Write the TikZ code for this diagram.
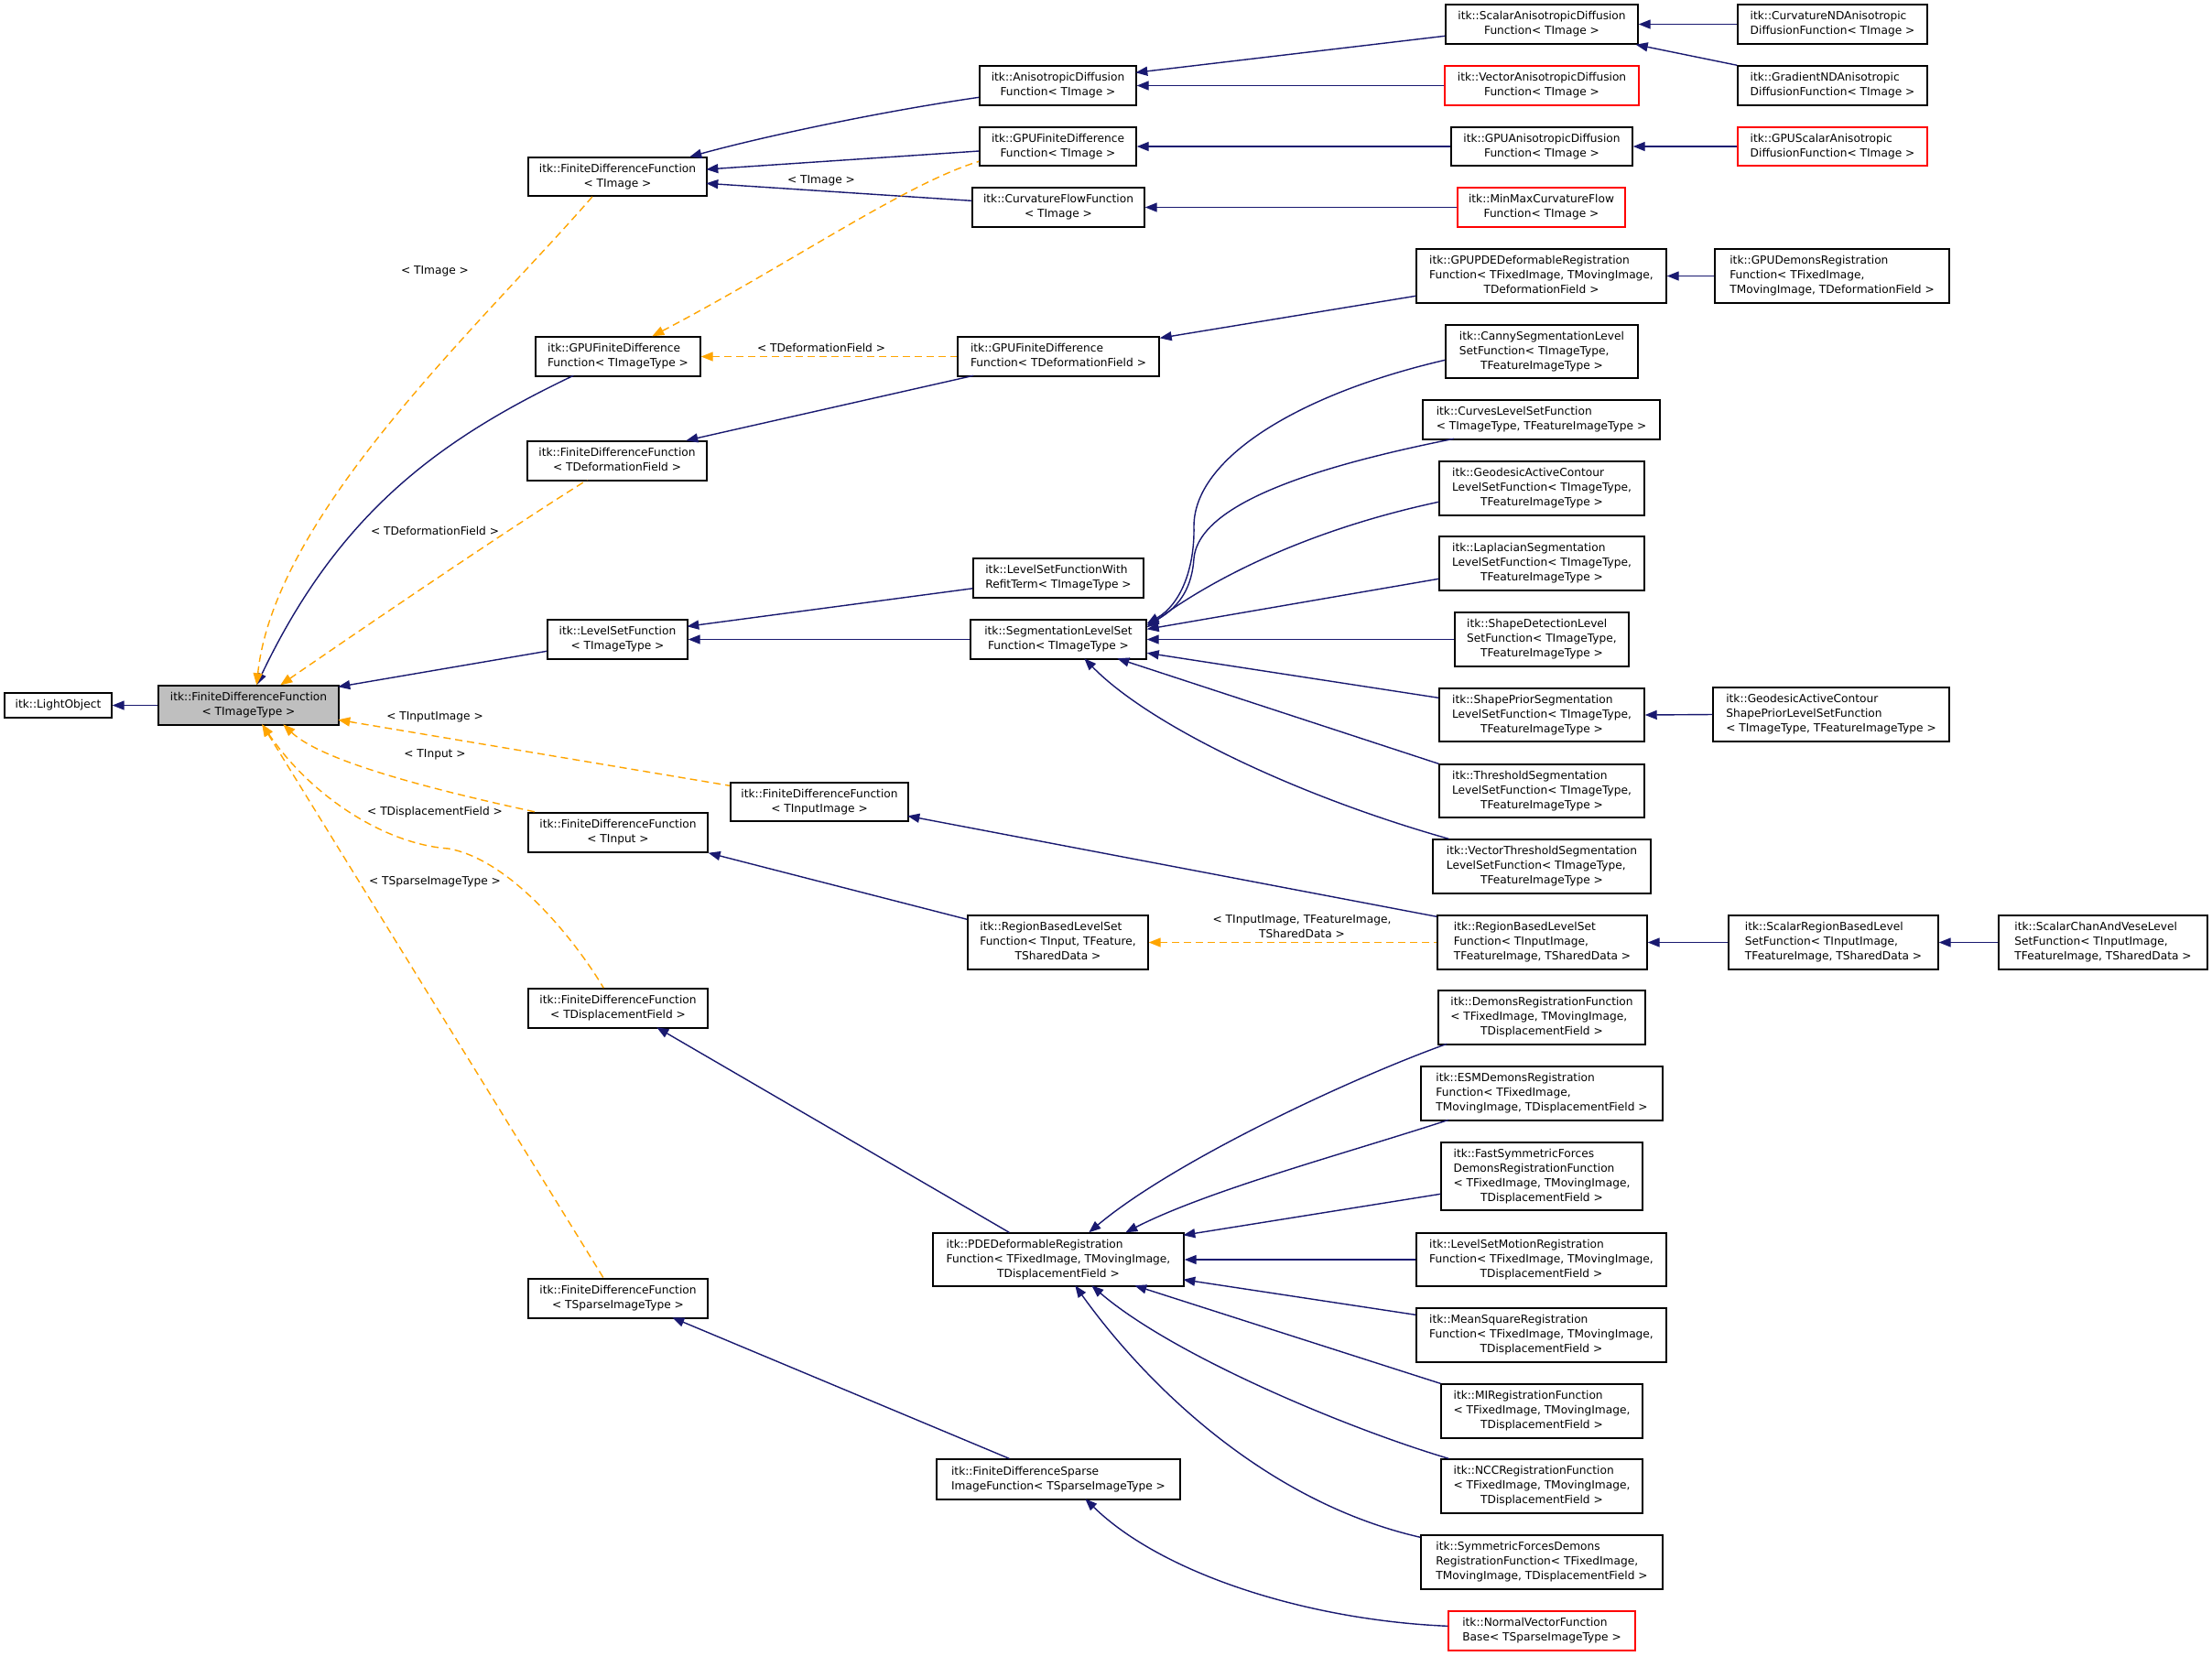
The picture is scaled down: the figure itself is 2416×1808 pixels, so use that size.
\documentclass[tikz,border=0pt]{standalone}
\usepackage{fontspec}
\setmainfont{DejaVu Sans}
\usetikzlibrary{arrows.meta,calc}
\definecolor{navy}{RGB}{25,25,112}
\definecolor{dorange}{RGB}{255,165,0}
\definecolor{gfill}{RGB}{191,191,191}
\newcommand\fs{\fontsize{12.2}{16.1}\selectfont}
\newcommand\T[1]{\begin{tabular}{@{}l@{}}#1\end{tabular}}
\newcommand\C[1]{\multicolumn{1}{@{}c@{}}{#1}}
\newcommand\nd[7][]{\node[box,#1,minimum width={#4-#2},minimum height={#5-#3}] (#6) at ({(#2+#4)/2},{(#3+#5)/2}) {#7};}
\begin{document}
\begin{tikzpicture}[x=1pt,y=-1pt,
  box/.style={draw=black,fill=white,line width=1.4pt,inner sep=0pt,font=\fs},
  redbox/.style={draw=red},
  lbl/.style={font=\fs,inner sep=0pt},
  inh/.style={draw=navy,line width=1.4pt,{Triangle[length=13pt,width=10pt,fill=navy]}-},
  tmpl/.style={draw=dorange,line width=1.4pt,dash pattern=on 8pt off 5pt,{Triangle[length=13pt,width=10pt,fill=dorange]}-}]
\fill[white] (0,0) rectangle (2416,1808);
\useasboundingbox (0,0) rectangle (2416,1808);

% ---- nodes ----
\nd{5}{757}{122}{784}{light}{itk::LightObject}
\nd[fill=gfill]{173}{749}{370}{792}{fdf}{\T{itk::FiniteDifferenceFunction\\\C{< TImageType >}}}
\nd{577}{172}{772}{214}{fdfImage}{\T{itk::FiniteDifferenceFunction\\\C{< TImage >}}}
\nd{585}{368}{765}{411}{gpufdf}{\T{itk::GPUFiniteDifference\\\C{Function< TImageType >}}}
\nd{576}{482}{772}{525}{fdfDef}{\T{itk::FiniteDifferenceFunction\\\C{< TDeformationField >}}}
\nd{598}{677}{751}{720}{lsf}{\T{itk::LevelSetFunction\\\C{< TImageType >}}}
\nd{577}{888}{773}{931}{fdfInput}{\T{itk::FiniteDifferenceFunction\\\C{< TInput >}}}
\nd{798}{855}{992}{897}{fdfInputImage}{\T{itk::FiniteDifferenceFunction\\\C{< TInputImage >}}}
\nd{577}{1080}{773}{1123}{fdfDisp}{\T{itk::FiniteDifferenceFunction\\\C{< TDisplacementField >}}}
\nd{577}{1397}{773}{1440}{fdfSparse}{\T{itk::FiniteDifferenceFunction\\\C{< TSparseImageType >}}}

\nd{1070}{72}{1241}{115}{aniso}{\T{itk::AnisotropicDiffusion\\\C{Function< TImage >}}}
\nd{1070}{139}{1241}{181}{gpufdfImage}{\T{itk::GPUFiniteDifference\\\C{Function< TImage >}}}
\nd{1062}{205}{1250}{248}{curvflow}{\T{itk::CurvatureFlowFunction\\\C{< TImage >}}}
\nd{1046}{368}{1266}{411}{gpufdfDef}{\T{itk::GPUFiniteDifference\\\C{Function< TDeformationField >}}}
\nd{1063}{610}{1249}{653}{refit}{\T{itk::LevelSetFunctionWith\\\C{RefitTerm< TImageType >}}}
\nd{1060}{677}{1252}{720}{seg}{\T{itk::SegmentationLevelSet\\\C{Function< TImageType >}}}
\nd{1057}{1000}{1254}{1059}{rbInput}{\T{itk::RegionBasedLevelSet\\Function< TInput, TFeature,\\\C{TSharedData >}}}
\nd{1019}{1347}{1293}{1405}{pde}{\T{itk::PDEDeformableRegistration\\Function< TFixedImage, TMovingImage,\\\C{TDisplacementField >}}}
\nd{1023}{1594}{1289}{1638}{sparse}{\T{itk::FiniteDifferenceSparse\\\C{ImageFunction< TSparseImageType >}}}

\nd{1579}{5}{1789}{48}{scalarAniso}{\T{itk::ScalarAnisotropicDiffusion\\\C{Function< TImage >}}}
\nd[redbox]{1578}{72}{1790}{115}{vecAniso}{\T{itk::VectorAnisotropicDiffusion\\\C{Function< TImage >}}}
\nd{1585}{139}{1783}{181}{gpuAniso}{\T{itk::GPUAnisotropicDiffusion\\\C{Function< TImage >}}}
\nd[redbox]{1592}{205}{1775}{248}{minmax}{\T{itk::MinMaxCurvatureFlow\\\C{Function< TImage >}}}
\nd{1547}{272}{1820}{331}{gpupde}{\T{itk::GPUPDEDeformableRegistration\\Function< TFixedImage, TMovingImage,\\\C{TDeformationField >}}}
\nd{1579}{355}{1789}{413}{canny}{\T{itk::CannySegmentationLevel\\SetFunction< TImageType,\\\C{TFeatureImageType >}}}
\nd{1554}{437}{1813}{480}{curves}{\T{itk::CurvesLevelSetFunction\\\C{< TImageType, TFeatureImageType >}}}
\nd{1572}{504}{1796}{563}{geo}{\T{itk::GeodesicActiveContour\\LevelSetFunction< TImageType,\\\C{TFeatureImageType >}}}
\nd{1572}{586}{1796}{645}{lap}{\T{itk::LaplacianSegmentation\\LevelSetFunction< TImageType,\\\C{TFeatureImageType >}}}
\nd{1589}{669}{1779}{728}{shapeDet}{\T{itk::ShapeDetectionLevel\\SetFunction< TImageType,\\\C{TFeatureImageType >}}}
\nd{1572}{752}{1796}{810}{shapePrior}{\T{itk::ShapePriorSegmentation\\LevelSetFunction< TImageType,\\\C{TFeatureImageType >}}}
\nd{1572}{835}{1796}{893}{thresh}{\T{itk::ThresholdSegmentation\\LevelSetFunction< TImageType,\\\C{TFeatureImageType >}}}
\nd{1565}{917}{1803}{976}{vecThresh}{\T{itk::VectorThresholdSegmentation\\LevelSetFunction< TImageType,\\\C{TFeatureImageType >}}}
\nd{1570}{1000}{1799}{1059}{rbInputImage}{\T{itk::RegionBasedLevelSet\\Function< TInputImage,\\\C{TFeatureImage, TSharedData >}}}
\nd{1571}{1082}{1797}{1141}{demons}{\T{itk::DemonsRegistrationFunction\\< TFixedImage, TMovingImage,\\\C{TDisplacementField >}}}
\nd{1552}{1165}{1816}{1224}{esm}{\T{itk::ESMDemonsRegistration\\Function< TFixedImage,\\\C{TMovingImage, TDisplacementField >}}}
\nd{1574}{1248}{1794}{1322}{fastsym}{\T{itk::FastSymmetricForces\\DemonsRegistrationFunction\\< TFixedImage, TMovingImage,\\\C{TDisplacementField >}}}
\nd{1547}{1347}{1820}{1405}{lsm}{\T{itk::LevelSetMotionRegistration\\Function< TFixedImage, TMovingImage,\\\C{TDisplacementField >}}}
\nd{1547}{1429}{1820}{1488}{meansq}{\T{itk::MeanSquareRegistration\\Function< TFixedImage, TMovingImage,\\\C{TDisplacementField >}}}
\nd{1574}{1512}{1794}{1571}{mi}{\T{itk::MIRegistrationFunction\\< TFixedImage, TMovingImage,\\\C{TDisplacementField >}}}
\nd{1574}{1594}{1794}{1653}{ncc}{\T{itk::NCCRegistrationFunction\\< TFixedImage, TMovingImage,\\\C{TDisplacementField >}}}
\nd{1552}{1677}{1816}{1736}{symf}{\T{itk::SymmetricForcesDemons\\RegistrationFunction< TFixedImage,\\\C{TMovingImage, TDisplacementField >}}}
\nd[redbox]{1582}{1760}{1786}{1803}{normal}{\T{itk::NormalVectorFunction\\\C{Base< TSparseImageType >}}}

\nd{1898}{5}{2105}{48}{curvND}{\T{itk::CurvatureNDAnisotropic\\\C{DiffusionFunction< TImage >}}}
\nd{1898}{72}{2105}{115}{gradND}{\T{itk::GradientNDAnisotropic\\\C{DiffusionFunction< TImage >}}}
\nd[redbox]{1898}{139}{2105}{181}{gpuScalar}{\T{itk::GPUScalarAnisotropic\\\C{DiffusionFunction< TImage >}}}
\nd{1873}{272}{2129}{331}{gpuDemons}{\T{itk::GPUDemonsRegistration\\Function< TFixedImage,\\\C{TMovingImage, TDeformationField >}}}
\nd{1871}{751}{2129}{810}{geoShape}{\T{itk::GeodesicActiveContour\\ShapePriorLevelSetFunction\\\C{< TImageType, TFeatureImageType >}}}
\nd{1888}{1000}{2117}{1059}{scalarRB}{\T{itk::ScalarRegionBasedLevel\\SetFunction< TInputImage,\\\C{TFeatureImage, TSharedData >}}}
\nd{2183}{1000}{2411}{1059}{chanVese}{\T{itk::ScalarChanAndVeseLevel\\SetFunction< TInputImage,\\\C{TFeatureImage, TSharedData >}}}

% ---- edge labels ----
\node[lbl] (t1) at (475,296) {< TImage >};
\node[lbl] (t2) at (897,197) {< TImage >};
\node[lbl] (t3) at (897,380) {< TDeformationField >};
\node[lbl] (t4) at (475,580) {< TDeformationField >};
\node[lbl] (t5) at (475,783) {< TInputImage >};
\node[lbl] (t6) at (475,824) {< TInput >};
\node[lbl] (t7) at (475,887) {< TDisplacementField >};
\node[lbl] (t8) at (475,963) {< TSparseImageType >};
\node[lbl,align=center] (t9) at (1422,1012) {< TInputImage, TFeatureImage,\\TSharedData >};

% ---- inheritance edges ----
\draw[inh] (light.east) -- (fdf.west);
\draw[inh] ($(fdf.north west)+(108,0)$) .. controls (370,560) and (480,480) .. ($(gpufdf.north west)+(42,43)$);
\draw[inh] ($(fdf.north west)+(197,2)$) -- ($(lsf.north west)+(0,35)$);
\draw[inh] ($(fdfImage.north west)+(177,0)$) .. controls (830,150) and (960,122) .. ($(aniso.north west)+(0,35)$);
\draw[inh] ($(fdfImage.north west)+(195,13.7)$) -- ($(gpufdfImage.north west)+(0,26.7)$);
\draw[inh] ($(fdfImage.north west)+(195,29)$) -- ($(curvflow.north west)+(0,15)$);
\draw[inh] ($(aniso.north west)+(171,8)$) -- ($(scalarAniso.north west)+(0,35)$);
\draw[inh] (aniso.east) -- (vecAniso.west);
\draw[inh] (scalarAniso.east) -- (curvND.west);
\draw[inh] ($(scalarAniso.south east)+(-3,0)$) -- (gradND.north west);
\draw[inh] (gpufdfImage.east) -- (gpuAniso.west);
\draw[inh] (gpuAniso.east) -- (gpuScalar.west);
\draw[inh] (curvflow.east) -- (minmax.west);
\draw[inh] ($(gpufdfDef.north east)+(0,2)$) -- ($(gpupde.north west)+(0,52)$);
\draw[inh] (gpupde.east) -- (gpuDemons.west);
\draw[inh] ($(fdfDef.north west)+(174,0)$) -- ($(gpufdfDef.north west)+(18,43)$);
\draw[inh] ($(lsf.north west)+(153,8)$) -- ($(refit.north west)+(0,33.5)$);
\draw[inh] (lsf.east) -- (seg.west);
\draw[inh] ($(seg.north east)+(0,5)$) .. controls (1290,660) and (1305,620) .. (1304,575) .. controls (1304,500) and (1420,430) .. ($(canny.north west)+(0,39)$);
\draw[inh] ($(seg.north east)+(0,7)$) .. controls (1290,662) and (1302,640) .. (1304,610) .. controls (1310,545) and (1460,505) .. ($(curves.north west)+(34.5,43)$);
\draw[inh] ($(seg.north east)+(0,9)$) .. controls (1300,650) and (1400,585) .. ($(geo.north west)+(0,45)$);
\draw[inh] ($(seg.north east)+(0,11)$) -- ($(lap.north west)+(0,47)$);
\draw[inh] (seg.east) -- (shapeDet.west);
\draw[inh] ($(seg.north east)+(0,37)$) -- ($(shapePrior.north west)+(0,11)$);
\draw[inh] ($(seg.north west)+(161,43)$) -- (thresh.north west);
\draw[inh] ($(seg.north west)+(125,43)$) .. controls (1255,792) and (1415,869) .. ($(vecThresh.north west)+(18,0)$);
\draw[inh] (shapePrior.east) -- (geoShape.west);
\draw[inh] ($(fdfInputImage.north west)+(194,37)$) -- ($(rbInputImage.north west)+(0,2)$);
\draw[inh] (fdfInput.south east) -- ($(rbInput.north west)+(0,5)$);
\draw[inh] (rbInputImage.east) -- (scalarRB.west);
\draw[inh] (scalarRB.east) -- (chanVese.west);
\draw[inh] ($(fdfDisp.north west)+(141,43)$) -- ($(pde.north west)+(84,0)$);
\draw[inh] ($(pde.north west)+(171,0)$) .. controls (1280,1270) and (1470,1180) .. ($(demons.north west)+(10,59)$);
\draw[inh] ($(pde.north west)+(211,0)$) .. controls (1320,1300) and (1470,1260) .. ($(esm.north west)+(31,59)$);
\draw[inh] ($(pde.north west)+(274,3)$) -- ($(fastsym.north west)+(0,57)$);
\draw[inh] (pde.east) -- (lsm.west);
\draw[inh] ($(pde.north west)+(274,51.5)$) -- ($(meansq.north west)+(0,8)$);
\draw[inh] ($(pde.north west)+(221,58)$) -- (mi.north west);
\draw[inh] ($(pde.north west)+(174,58)$) .. controls (1280,1480) and (1470,1560) .. ($(ncc.north west)+(9,0)$);
\draw[inh] ($(pde.north west)+(156,58)$) .. controls (1250,1510) and (1380,1640) .. ($(symf.north west)+(0,3)$);
\draw[inh] ($(fdfSparse.north west)+(158,43)$) -- ($(sparse.north west)+(80,0)$);
\draw[inh] ($(sparse.north west)+(163,44)$) .. controls (1270,1720) and (1430,1770) .. ($(normal.north west)+(0,17)$);

% ---- template instantiation edges ----
\draw[tmpl] ($(fdf.north west)+(108,0)$) .. controls (300,560) and (530,350) .. ($(fdfImage.north west)+(72,42)$);
\draw[tmpl] ($(fdf.north west)+(134,0)$) .. controls (420,670) and (560,575) .. ($(fdfDef.north west)+(66,43)$);
\draw[tmpl] ($(gpufdf.north west)+(128,0)$) .. controls (860,290) and (990,200) .. ($(gpufdfImage.north west)+(0,38)$);
\draw[tmpl] (gpufdf.east) -- (gpufdfDef.west);
\draw[tmpl] ($(fdf.north west)+(197,38)$) -- ($(fdfInputImage.north west)+(0,4)$);
\draw[tmpl] ($(fdf.north west)+(137,43)$) .. controls (350,830) and (460,860) .. ($(fdfInput.north west)+(10,0)$);
\draw[tmpl] ($(fdf.north west)+(114,43)$) .. controls (340,870) and (420,922) .. (490,927) .. controls (560,940) and (630,1030) .. ($(fdfDisp.north west)+(83,0)$);
\draw[tmpl] ($(fdf.north west)+(114,43)$) -- ($(fdfSparse.north west)+(83,0)$);
\draw[tmpl] (rbInput.east) -- (rbInputImage.west);
\end{tikzpicture}
\end{document}
